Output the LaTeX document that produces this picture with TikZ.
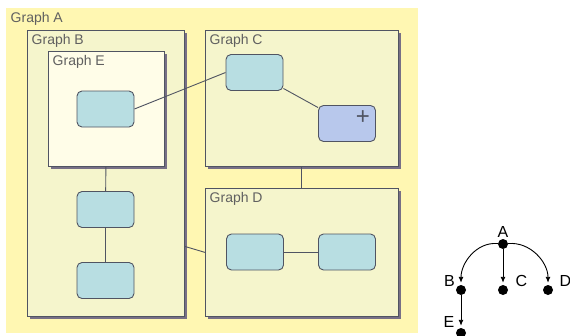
\documentclass[tikz,border=0pt]{standalone}
\usepackage{fontspec}
\setmainfont{Liberation Sans}
\usetikzlibrary{shadows,arrows.meta}
\definecolor{bgyellow}{RGB}{255,247,178}
\definecolor{boxfill}{RGB}{245,245,204}
\definecolor{innerfill}{RGB}{255,253,232}
\definecolor{nodefill}{RGB}{184,222,226}
\definecolor{plusfill}{RGB}{184,200,236}
\definecolor{edgegrey}{RGB}{80,84,98}
\definecolor{shadowgrey}{RGB}{120,112,134}
\definecolor{labelgrey}{RGB}{96,96,96}

\begin{document}
\begin{tikzpicture}[x=1pt,y=-1pt,
    graphbox/.style={draw=edgegrey,fill=boxfill,line width=0.8pt,anchor=north west,inner sep=0pt,
        drop shadow={shadow xshift=2.5pt,shadow yshift=-2.5pt,fill=shadowgrey,opacity=1}},
    graphtitle/.style={anchor=north west,inner sep=4.5pt,text=labelgrey,font=\fontsize{14}{16}\selectfont},
    boxnode/.style={draw=edgegrey,fill=nodefill,rounded corners=5pt,line width=0.9pt,
        minimum width=57pt,minimum height=36pt,inner sep=0pt},
    link/.style={draw=edgegrey,line width=0.9pt},
    treedot/.style={circle,fill=black,inner sep=0pt,minimum size=10pt},
    treelabel/.style={inner sep=0pt,font=\fontsize{16}{18}\selectfont},
    treearrow/.style={-{Latex[length=6pt,width=5pt]},line width=0.9pt,shorten >=2pt}]
    \useasboundingbox (0,0) rectangle (570,335);
    % Graph boxes
    \node[fill=bgyellow,anchor=north west,inner sep=0pt,minimum width=412,minimum height=325](gA) at (6,8){};
    \node[graphbox,minimum width=157,minimum height=286](gB) at (27,30){};
    \node[graphbox,fill=innerfill,minimum width=116,minimum height=115](gE) at (48,51){};
    \node[graphbox,minimum width=193,minimum height=136](gC) at (205,30){};
    \node[graphbox,minimum width=193,minimum height=128](gD) at (205,188){};
    % Titles
    \node[graphtitle](tgA) at (gA.north west){Graph A};
    \node[graphtitle](tgB) at (gB.north west){Graph B};
    \node[graphtitle](tgE) at (gE.north west){Graph E};
    \node[graphtitle](tgC) at (gC.north west){Graph C};
    \node[graphtitle](tgD) at (gD.north west){Graph D};
    % Inner nodes
    \node[boxnode](E1) at (105.5,109){};
    \node[boxnode](B1) at (105.5,209.5){};
    \node[boxnode](B2) at (105.5,280.5){};
    \node[boxnode](C1) at (254.5,72.5){};
    \node[boxnode,fill=plusfill](C2) at (347,123.5){};
    \node[inner sep=0pt,text=edgegrey,font=\fontsize{24}{24}\selectfont](plus) at ([xshift=16pt,yshift=6pt]C2.center){+};
    \node[boxnode](D1) at (255,252){};
    \node[boxnode](D2) at (347,252){};
    % Links
    \draw[link](gE)--(B1);
    \draw[link](B1)--(B2);
    \draw[link](E1.east)--(C1.west);
    \draw[link](C1)--(C2);
    \draw[link](gC)--(gD);
    \draw[link]([yshift=-73pt]gB.east)--(gD.west);
    \draw[link](D1)--(D2);
    % Tree
    \node[treedot](tA) at (503,244){};
    \node[treedot](tB) at (461,290){};
    \node[treedot](tC) at (503,290){};
    \node[treedot](tD) at (548,290){};
    \node[treedot](tE) at (461,333){};
    \node[treelabel](lA) at (503,232){A};
    \node[treelabel](lB) at (449.5,281){B};
    \node[treelabel](lC) at (521.5,281){C};
    \node[treelabel](lD) at (565.5,281){D};
    \node[treelabel](lE) at (449,322){E};
    \draw[treearrow](tA) to[out=175,in=90] (tB);
    \draw[treearrow](tA)--(tC);
    \draw[treearrow](tA) to[out=5,in=90] (tD);
    \draw[treearrow](tB)--(tE);
\end{tikzpicture}
\end{document}
